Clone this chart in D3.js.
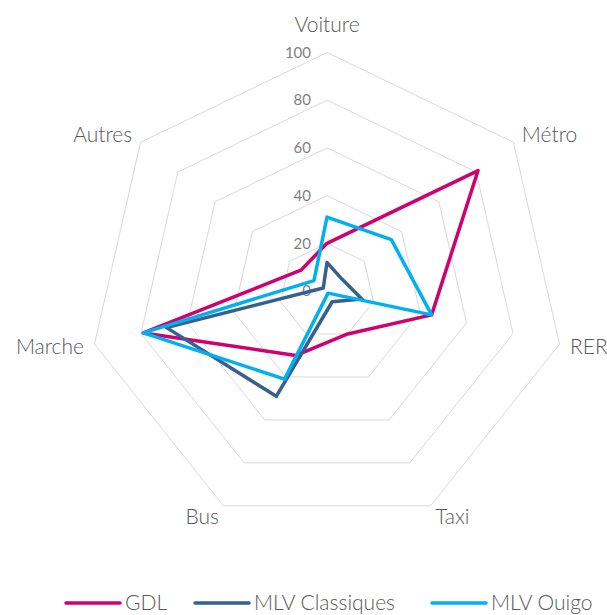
<!DOCTYPE html>
<html>
<head>
<meta charset="utf-8">
<script src="https://cdn.jsdelivr.net/npm/d3@7"></script>
<style>
  body { margin: 0; background: #fff; }
  svg { font-family: Lato, "Open Sans", sans-serif; }
</style>
</head>
<body>
<svg width="607" height="615"></svg>
<script>
// categories and series
var categories = ["Voiture", "Métro", "RER", "Taxi", "Bus", "Marche", "Autres"];
var gdl = [20, 81, 45, 20, 30, 79, 14];
var mlvClassiques = [12, 8, 15, 5, 49, 69, 2];
var mlvOuigo = [31, 34.5, 45, 1, 41, 79, 7];
var ticks = [0, 20, 40, 60, 80, 100];
var seriesNames = ["GDL", "MLV Classiques", "MLV Ouigo"];
var seriesColors = ["#d0006f", "#36608f", "#00b0f0"];

var series = [gdl, mlvClassiques, mlvOuigo];

var svg = d3.select("svg"),
    cx = 327,
    cy = 291;

var r = d3.scaleLinear().domain([0, 100]).range([0, 238.5]);
var angle = d3.scalePoint().domain(categories).range([0, 2 * Math.PI * 6 / 7]);

function pt(cat, v) {
    var a = angle(cat);
    return [cx + r(v) * Math.sin(a), cy - r(v) * Math.cos(a)];
}

var g = svg.append("g");

// grid rings
ticks.forEach(function (t) {
    if (t == 0) return;
    g.append("polygon")
        .attr("points", categories.map(function (c) { return pt(c, t).join(","); }).join(" "))
        .attr("fill", "none")
        .attr("stroke", "#d9d9d9")
        .attr("stroke-width", 1);
});

// tick labels
g.selectAll(".tick")
    .data(ticks)
    .enter()
    .append("text")
    .attr("x", cx - 16)
    .attr("y", function (d) { return cy - r(d); })
    .attr("dy", "0.35em")
    .attr("text-anchor", "end")
    .attr("font-size", 15)
    .attr("fill", "#7f7f7f")
    .text(function (d) { return d; });

// category labels
g.selectAll(".cat")
    .data(categories)
    .enter()
    .append("text")
    .attr("x", function (c) { return pt(c, 104.5)[0]; })
    .attr("y", function (c) {
        var p = pt(c, 105);
        return Math.abs(Math.sin(angle(c))) < 0.1 ? p[1] - 16 : p[1];
    })
    .attr("dy", "0.35em")
    .attr("text-anchor", function (c) {
        var s = Math.sin(angle(c));
        return s > 0.1 ? "start" : (s < -0.1 ? "end" : "middle");
    })
    .attr("font-size", 21)
    .attr("font-weight", 300)
    .attr("fill", "#595959")
    .text(function (c) { return c; });

// series lines
var line = d3.lineRadial()
    .angle(function (d, i) { return angle(categories[i]); })
    .radius(function (d) { return r(d); })
    .curve(d3.curveLinearClosed);

series.forEach(function (s, i) {
    g.append("path")
        .attr("transform", "translate(" + cx + "," + cy + ")")
        .attr("d", line(s))
        .attr("fill", "none")
        .attr("stroke", seriesColors[i])
        .attr("stroke-width", 3.5)
        .attr("stroke-linejoin", "round");
});

// legend
var legendX = [66, 195, 432];
var legend = svg.append("g");
seriesNames.forEach(function (name, i) {
    legend.append("line")
        .attr("x1", legendX[i]).attr("x2", legendX[i] + 54)
        .attr("y1", 603).attr("y2", 603)
        .attr("stroke", seriesColors[i])
        .attr("stroke-width", 3.5)
        .attr("stroke-linecap", "round");
    legend.append("text")
        .attr("x", legendX[i] + 59)
        .attr("y", 603)
        .attr("dy", "0.35em")
        .attr("font-size", 21)
        .attr("font-weight", 300)
        .attr("fill", "#595959")
        .text(name);
});
</script>
</body>
</html>
